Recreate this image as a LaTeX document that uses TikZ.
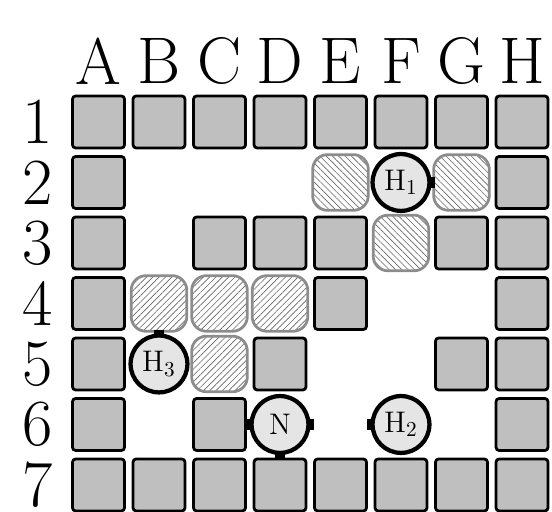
\documentclass[tikz,border=0pt]{standalone}
\usepackage{fontspec}
\usetikzlibrary{patterns.meta}

\begin{document}
\begin{tikzpicture}[
  wall/.style={draw,line width=1.3pt,fill=black!25,rounded corners=1.5pt,minimum size=0.86cm,inner sep=0pt},
  hatchNE/.style={draw=black!45,line width=1.3pt,rounded corners=7pt,minimum size=0.92cm,inner sep=0pt,
    pattern={Lines[angle=45,distance=2.1pt,line width=0.3pt]},pattern color=black!60},
  hatchNW/.style={hatchNE,pattern={Lines[angle=-45,distance=2.1pt,line width=0.3pt]}},
  robot/.style={circle,draw,line width=2pt,fill=black!10,minimum size=0.94cm,inner sep=0pt,
    font=\fontsize{14}{16}\selectfont},
  biglabel/.style={font=\fontsize{31}{36}\selectfont,inner sep=0pt}]
\useasboundingbox (-0.628,-7.446) rectangle (8.496,1.016);

% column and row labels
\foreach \c [count=\x] in {A,B,C,D,E,F,G,H}
  \node[biglabel] (col\c) at (\x,0) {\c};
\foreach \y in {1,...,7}
  \node[biglabel] (row\y) at (0,-\y) {\y};

% outer walls
\foreach \c [count=\x] in {A,B,C,D,E,F,G,H} {
  \node[wall] (\c1) at (\x,-1) {};
  \node[wall] (\c7) at (\x,-7) {};
}
\foreach \y in {2,...,6} {
  \node[wall] (A\y) at (1,-\y) {};
  \node[wall] (H\y) at (8,-\y) {};
}
% inner walls
\foreach \n/\x/\y in {C3/3/3,D3/4/3,E3/5/3,G3/7/3,E4/5/4,D5/4/5,G5/7/5,C6/3/6}
  \node[wall] (\n) at (\x,-\y) {};

% hatched cells
\foreach \n/\x/\y in {E2/5/2,G2/7/2,F3/6/3}
  \node[hatchNW] (\n) at (\x,-\y) {};
\foreach \n/\x/\y in {B4/2/4,C4/3/4,D4/4/4,C5/3/5}
  \node[hatchNE] (\n) at (\x,-\y) {};

% robots
\node[robot] (h1) at (6,-2) {$\mathrm{H}_1$};
\node[robot] (h2) at (6,-6) {$\mathrm{H}_2$};
\node[robot] (h3) at (2,-5) {$\mathrm{H}_3$};
\node[robot] (n) at (4,-6) {N};

% tabs
\fill ([shift={(-0.03,-0.09)}]h1.east) rectangle ([shift={(0.06,0.09)}]h1.east);
\fill ([shift={(0.03,-0.09)}]h2.west) rectangle ([shift={(-0.06,0.09)}]h2.west);
\fill ([shift={(-0.09,-0.03)}]h3.north) rectangle ([shift={(0.09,0.06)}]h3.north);
\fill ([shift={(0.03,-0.09)}]n.west) rectangle ([shift={(-0.06,0.09)}]n.west);
\fill ([shift={(-0.03,-0.09)}]n.east) rectangle ([shift={(0.06,0.09)}]n.east);
\fill ([shift={(-0.09,0.03)}]n.south) rectangle ([shift={(0.09,-0.06)}]n.south);
\end{tikzpicture}
\end{document}
